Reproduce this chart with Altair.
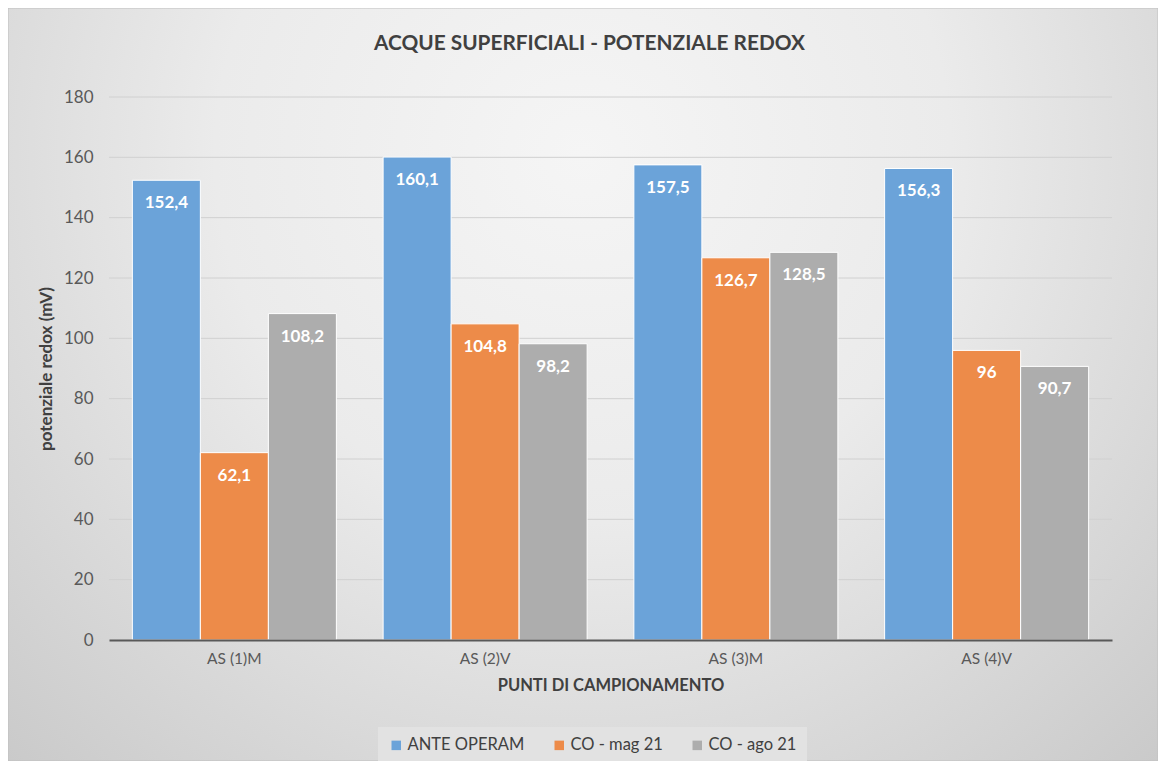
import altair as alt
import pandas as pd

categories = ["AS (1)M", "AS (2)V", "AS (3)M", "AS (4)V"]
series = ["ANTE OPERAM", "CO - mag 21", "CO - ago 21"]
ante_operam = [152.4, 160.1, 157.5, 156.3]
co_mag21 = [62.1, 104.8, 126.7, 96]
co_ago21 = [108.2, 98.2, 128.5, 90.7]
y_ticks = [0, 20, 40, 60, 80, 100, 120, 140, 160, 180]
colors = ["#6ba3d9", "#ed8b49", "#adadad"]

rows = []
for s, vals in zip(series, [ante_operam, co_mag21, co_ago21]):
    for c, v in zip(categories, vals):
        rows.append({"punto": c, "serie": s, "valore": v})
df = pd.DataFrame(rows)

FONT = "Lato"
W, H = 1003, 543
PL, PT, PR, PB = 101, 89, 46, 121

bg = alt.Chart(pd.DataFrame({"a": [0]})).mark_rect(
    fill=alt.Gradient(
        gradient="radial",
        stops=[
            alt.GradientStop(offset=0, color="#f5f5f5"),
            alt.GradientStop(offset=0.4, color="#ebebeb"),
            alt.GradientStop(offset=1, color="#c4c4c4"),
        ],
        x1=0.5, y1=0.3, r1=0, x2=0.5, y2=0.3, r2=0.8,
    ),
    stroke="#c0c0c0", strokeWidth=1,
).encode(
    x=alt.value(-PL), x2=alt.value(W + PR),
    y=alt.value(-PT), y2=alt.value(H + PB),
)

grid = alt.Chart(pd.DataFrame({"t": y_ticks[1:]})).mark_rule(
    color="#d0d0d0", strokeWidth=1
).encode(y=alt.Y("t:Q", scale=alt.Scale(domain=[0, 180])))

base = alt.Chart(df).encode(
    x=alt.X("punto:N", sort=categories,
            scale=alt.Scale(paddingInner=0.1864, paddingOuter=0.0932),
            axis=alt.Axis(title="PUNTI DI CAMPIONAMENTO", labelAngle=0, zindex=1,
                          domainColor="#595959", domainWidth=2, ticks=False,
                          labelPadding=11, labelFontSize=15.5, labelColor="#595959",
                          labelFont=FONT, titleFont=FONT, titleFontSize=16.5,
                          titleFontWeight="bold", titleColor="#404040",
                          titlePadding=11)),
    xOffset=alt.XOffset("serie:N", sort=series, scale=alt.Scale(paddingInner=0, paddingOuter=0)),
    y=alt.Y("valore:Q", scale=alt.Scale(domain=[0, 180], nice=False),
            axis=alt.Axis(title="potenziale redox (mV)", values=y_ticks, zindex=1,
                          domain=False, ticks=False, grid=False, labelPadding=16,
                          labelFontSize=17, labelColor="#595959", labelFont=FONT,
                          titleFont=FONT, titleFontSize=17, titleFontWeight="bold",
                          titleColor="#404040", titlePadding=8)),
)

bars = base.mark_bar(stroke="white", strokeWidth=1).encode(
    color=alt.Color("serie:N", sort=series,
                    scale=alt.Scale(domain=series, range=colors),
                    legend=alt.Legend(title=None, orient="none", direction="horizontal",
                                      legendX=269, legendY=630, symbolType="square",
                                      symbolSize=90, symbolStrokeWidth=0,
                                      labelFontSize=16.5, labelColor="#404040",
                                      labelFont=FONT, labelOffset=3, columnPadding=26,
                                      fillColor="#e2e2e2", padding=10))
)

labels = base.transform_calculate(
    lab="replace(toString(datum.valore), '.', ',')"
).mark_text(color="white", fontWeight="bold", fontSize=17, font=FONT,
            baseline="middle", dy=23).encode(text="lab:N")

chart = alt.layer(bg, grid, bars, labels).properties(
    width=W, height=H,
    padding={"left": PL, "top": PT, "right": PR, "bottom": PB},
    autosize=alt.AutoSizeParams(type="none"),
    background="#d4d4d4",
    title=alt.TitleParams("ACQUE SUPERFICIALI - POTENZIALE REDOX", font=FONT,
                          fontSize=20.8, fontWeight="bold", color="#404040",
                          anchor="middle", frame="group", baseline="middle",
                          dx=-21, offset=-57.5),
).configure_view(stroke=None)

chart.save("out.html", embed_options={"renderer": "svg", "actions": False})
